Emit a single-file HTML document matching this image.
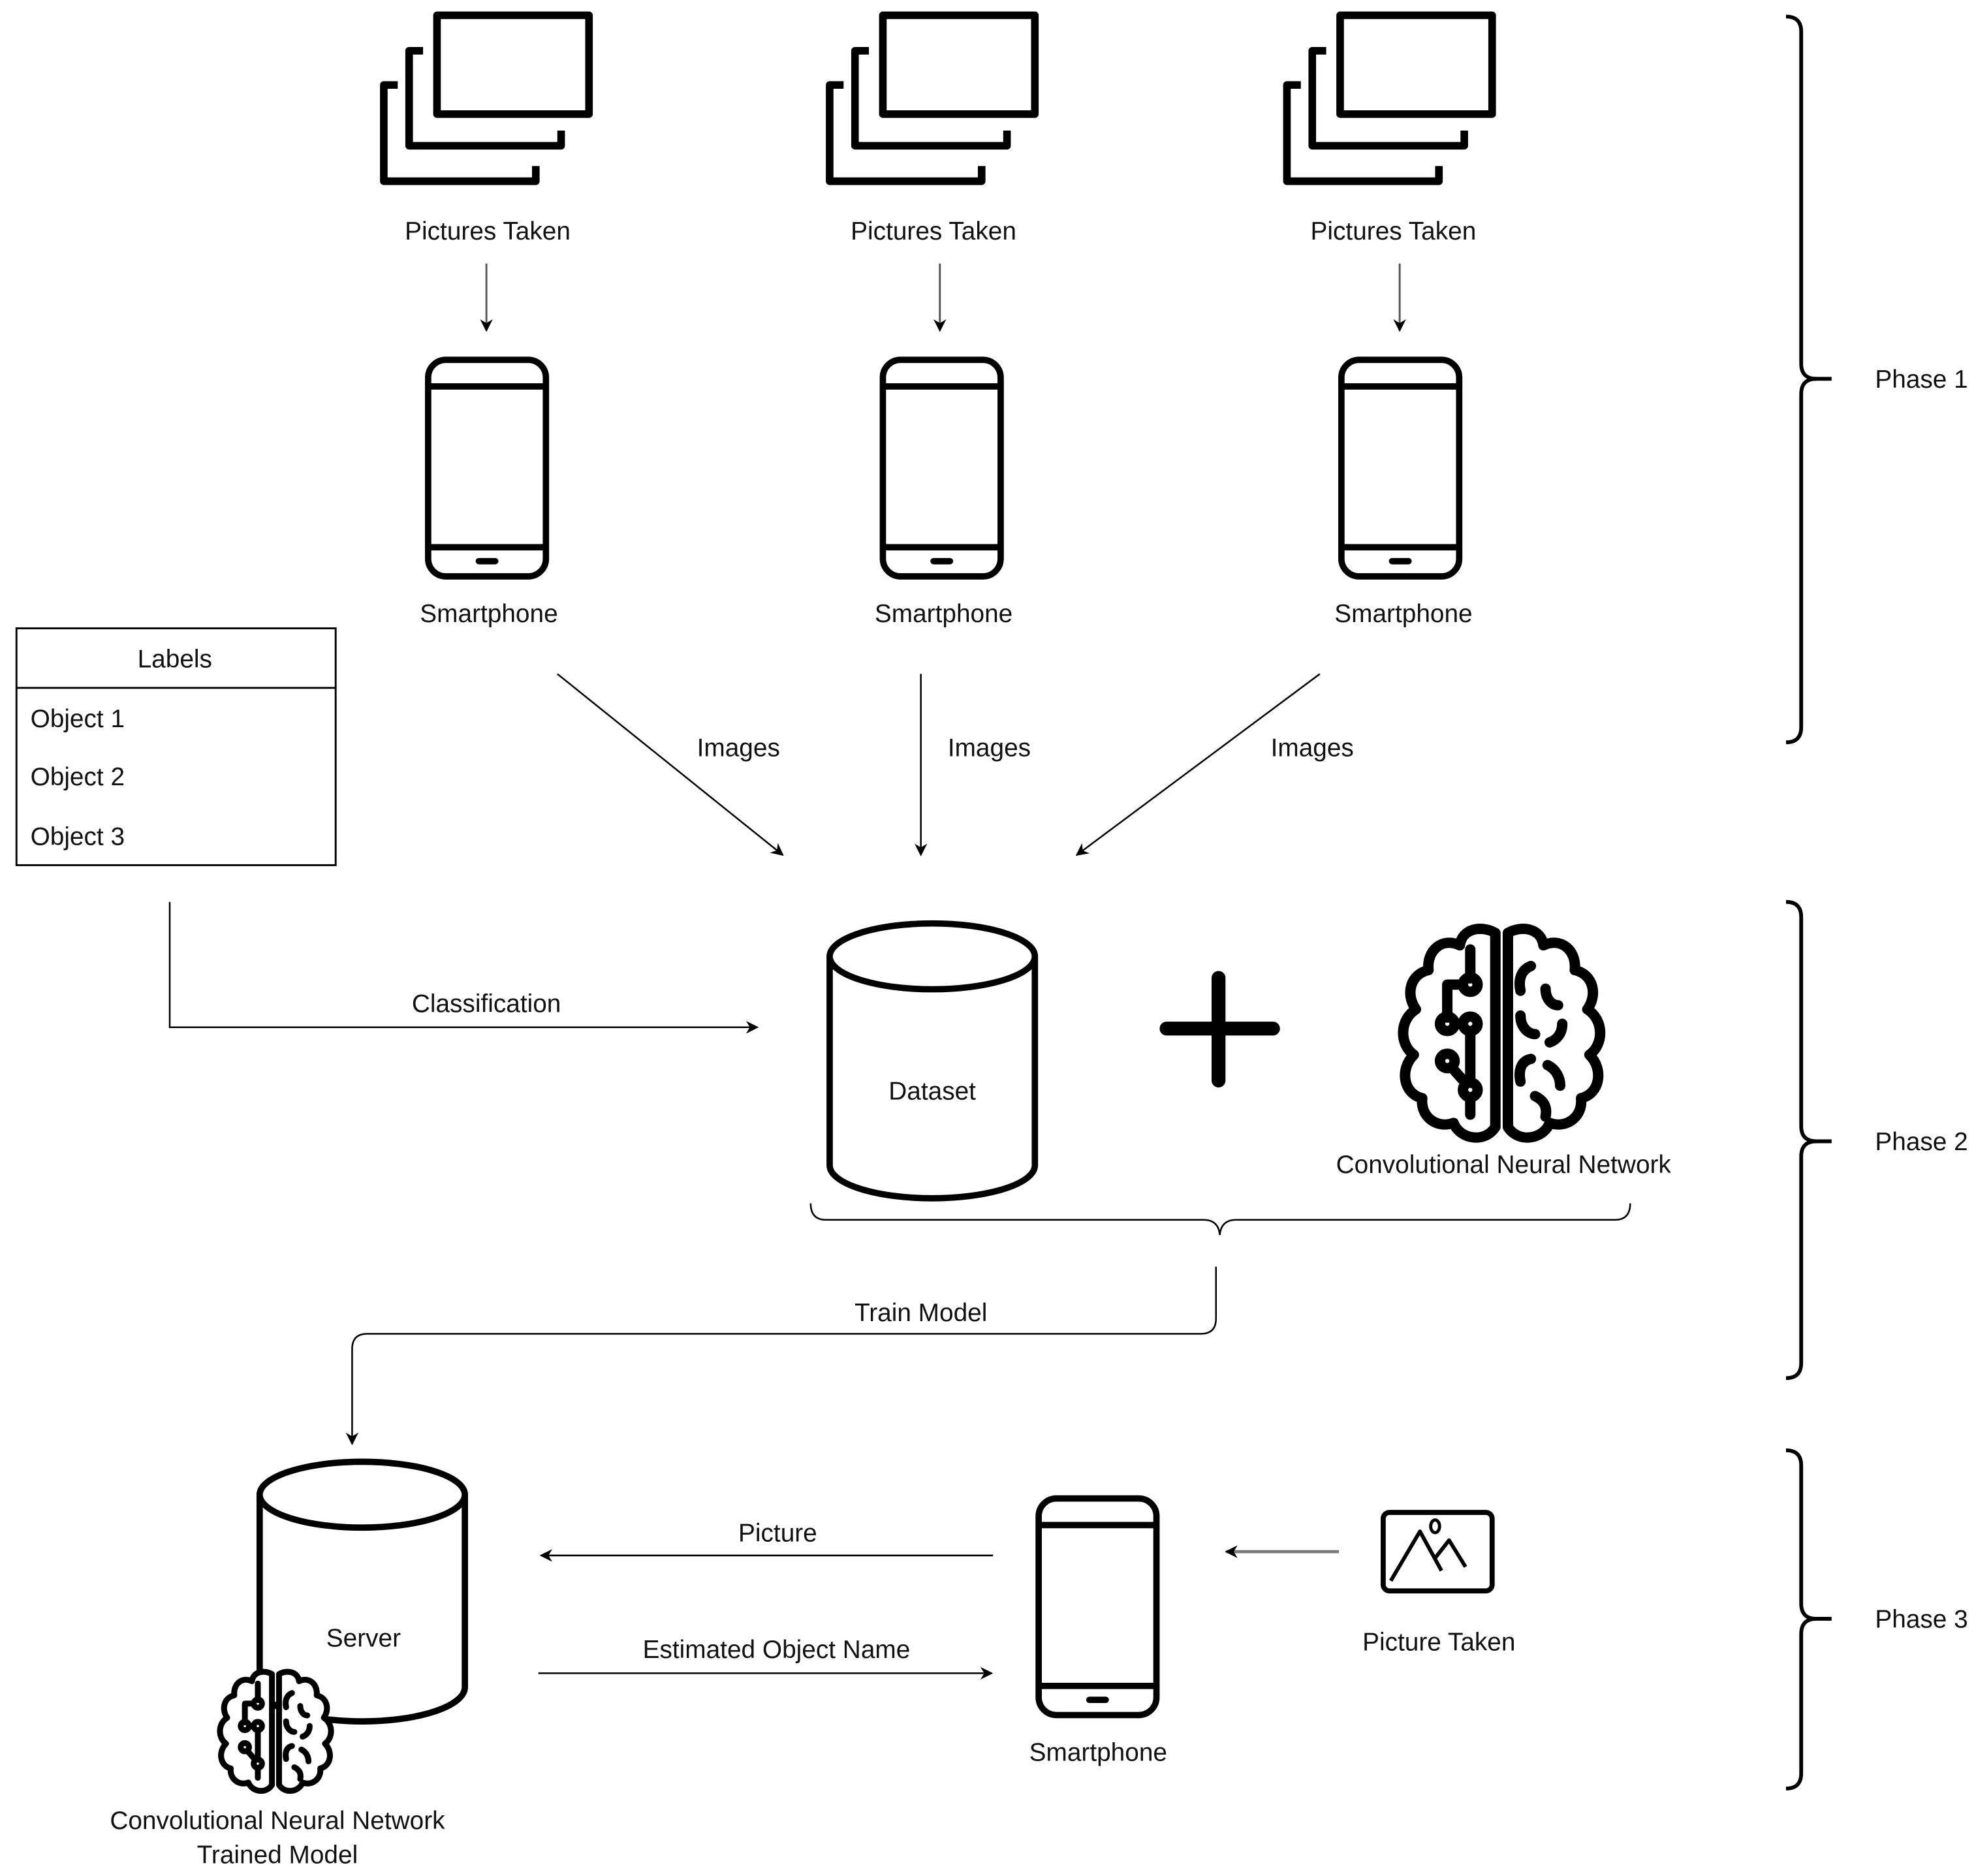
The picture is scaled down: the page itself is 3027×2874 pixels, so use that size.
<!DOCTYPE html>
<html><head><meta charset="utf-8"><style>
html,body{margin:0;padding:0;background:#fff;}
svg{display:block;}
text{font-family:"Liberation Sans",sans-serif;fill:#111;}
</style></head><body>
<svg width="3027" height="2874" viewBox="0 0 1560 1481" xmlns="http://www.w3.org/2000/svg">
<defs>
<marker id="ah" markerWidth="10" markerHeight="10" refX="9" refY="5" orient="auto" markerUnits="userSpaceOnUse">
<path d="M0,0 L10,5 L0,10 L3,5 Z" fill="#000"/></marker>
<g id="stack" fill="none" stroke="#000" stroke-width="6" stroke-linejoin="round">
<rect x="345" y="12" width="120" height="78"/>
<polyline points="334,40 323,40 323,115 443,115 443,103"/>
<polyline points="314,67 303,67 303,143 423,143 423,131"/>
</g>
<g id="phone" fill="none" stroke="#000" stroke-width="5">
<rect x="0" y="0" width="93" height="171" rx="14"/>
<line x1="0" y1="21" x2="93" y2="21"/>
<line x1="0" y1="148" x2="93" y2="148"/>
<line x1="40" y1="159" x2="53" y2="159" stroke-width="5" stroke-linecap="round"/>
</g>
<g id="brain" fill="none" stroke="#000" stroke-width="5" stroke-linecap="round" stroke-linejoin="round">
<path d="M47,4 C40,0 31,2 30,10 C22,6 14,12 15,22 C6,24 4,34 9,41 C1,46 1,58 8,63 C1,70 3,82 12,84 C11,93 19,99 27,96 C30,104 42,106 47,98 Z" fill="#fff"/>
<path d="M53,4 C60,0 69,2 70,10 C78,6 86,12 85,22 C94,24 96,34 91,41 C99,46 99,58 92,63 C99,70 97,82 88,84 C89,93 81,99 73,96 C70,104 58,106 53,98 Z" fill="#fff"/>
<line x1="35" y1="12" x2="35" y2="26"/>
<circle cx="35" cy="29" r="3.5"/>
<polyline points="31,29 24,29 24,45"/>
<circle cx="24" cy="48" r="3.5"/>
<circle cx="35" cy="48" r="3.5"/>
<line x1="28" y1="48" x2="31" y2="48"/>
<line x1="35" y1="52" x2="35" y2="76"/>
<circle cx="24" cy="66" r="3.5"/>
<line x1="26" y1="69" x2="33" y2="77"/>
<circle cx="35" cy="80" r="3.5"/>
<line x1="35" y1="84" x2="35" y2="92"/>
<path d="M64,20 C59,22 58,27 59,32"/>
<path d="M71,31 C71,36 74,39 77,39"/>
<path d="M59,44 C59,50 63,53 66,53"/>
<path d="M79,48 C79,53 76,56 73,57"/>
<path d="M64,65 C59,66 58,71 59,76"/>
<path d="M72,68 C76,70 78,74 78,78"/>
<path d="M66,83 C70,85 72,88 71,93"/>
</g>
</defs>

<!-- Phase 1 stacks -->
<use href="#stack"/>
<use href="#stack" x="352"/>
<use href="#stack" x="713"/>
<g font-size="20" text-anchor="middle">
<text x="385" y="189">Pictures Taken</text>
<text x="737" y="189">Pictures Taken</text>
<text x="1100" y="189">Pictures Taken</text>
</g>
<g stroke="#555" stroke-width="1.5" marker-end="url(#ah)">
<line x1="384" y1="208" x2="384" y2="261"/>
<line x1="742" y1="208" x2="742" y2="261"/>
<line x1="1105" y1="208" x2="1105" y2="261"/>
</g>
<use href="#phone" x="338" y="284"/>
<use href="#phone" x="697" y="284"/>
<use href="#phone" x="1059" y="284"/>
<g font-size="20" text-anchor="middle">
<text x="386" y="491">Smartphone</text>
<text x="745" y="491">Smartphone</text>
<text x="1108" y="491">Smartphone</text>
</g>

<!-- Labels box -->
<rect x="13" y="496" width="252" height="187" fill="none" stroke="#000" stroke-width="1.5"/>
<line x1="13" y1="543" x2="265" y2="543" stroke="#000" stroke-width="1.5"/>
<g font-size="20">
<text x="138" y="527" text-anchor="middle">Labels</text>
<text x="24" y="574">Object 1</text>
<text x="24" y="620">Object 2</text>
<text x="24" y="667">Object 3</text>
</g>

<!-- Image arrows -->
<g stroke="#000" stroke-width="1.3" fill="none" marker-end="url(#ah)">
<line x1="440" y1="532" x2="618" y2="675"/>
<line x1="727" y1="532" x2="727" y2="675"/>
<line x1="1042" y1="532" x2="850" y2="675"/>
<polyline points="134,712 134,811 598,811"/>
</g>
<g font-size="20" text-anchor="middle">
<text x="583" y="597">Images</text>
<text x="781" y="597">Images</text>
<text x="1036" y="597">Images</text>
<text x="384" y="799">Classification</text>
</g>

<!-- Dataset -->
<path d="M655,755 L655,920 A81,26 0 0 0 817,920 L817,755" fill="#fff" stroke="#000" stroke-width="5"/>
<ellipse cx="736" cy="755" rx="81" ry="26" fill="#fff" stroke="#000" stroke-width="5"/>
<text x="736" y="868" font-size="20" text-anchor="middle">Dataset</text>

<!-- Plus -->
<g stroke="#000" stroke-width="11" stroke-linecap="round">
<line x1="921" y1="812" x2="1005" y2="812"/>
<line x1="962" y1="772" x2="962" y2="853"/>
</g>

<!-- Brain large -->
<use href="#brain" transform="translate(1103,730) scale(1.65,1.63)"/>
<text x="1187" y="926" font-size="20" text-anchor="middle">Convolutional Neural Network</text>

<!-- horizontal brace -->
<path d="M640,950 Q640,963 652,963 L950,963 Q962,963 963,975 Q964,963 976,963 L1275,963 Q1287,963 1287,950" fill="none" stroke="#000" stroke-width="1.3"/>

<!-- Train model -->
<path d="M960,1000 L960,1041 Q960,1053 948,1053 L290,1053 Q278,1053 278,1065 L278,1140" fill="none" stroke="#000" stroke-width="1.3" marker-end="url(#ah)"/>
<text x="727" y="1043" font-size="20" text-anchor="middle">Train Model</text>

<!-- Server -->
<path d="M205,1180 L205,1332 A81,27 0 0 0 367,1332 L367,1180" fill="#fff" stroke="#000" stroke-width="5"/>
<ellipse cx="286" cy="1180" rx="81" ry="26" fill="#fff" stroke="#000" stroke-width="5"/>
<text x="287" y="1300" font-size="20" text-anchor="middle">Server</text>
<use href="#brain" transform="translate(171,1318) scale(0.93,0.93)"/>
<g font-size="20" text-anchor="middle">
<text x="219" y="1444">Convolutional Neural Network</text>
<text x="219" y="1471">Trained Model</text>
</g>

<!-- Phase 3 arrows -->
<g stroke="#000" stroke-width="1.3" marker-end="url(#ah)">
<line x1="784" y1="1228" x2="427" y2="1228"/>
<line x1="425" y1="1321" x2="783" y2="1321"/>
</g>
<line x1="1057" y1="1225" x2="968" y2="1225" stroke="#777" stroke-width="2.5" marker-end="url(#ah)"/>
<g font-size="20" text-anchor="middle">
<text x="614" y="1217">Picture</text>
<text x="613" y="1309">Estimated Object Name</text>
<text x="867" y="1390">Smartphone</text>
<text x="1136" y="1303">Picture Taken</text>
</g>
<use href="#phone" x="820" y="1183"/>

<!-- picture icon -->
<g fill="none" stroke="#000" stroke-linejoin="round">
<rect x="1092" y="1194" width="86" height="62" rx="5" stroke-width="4"/>
<polyline points="1098,1248 1121,1209 1138,1240" stroke-width="3"/>
<polyline points="1133,1230 1144,1216 1157,1237" stroke-width="3"/>
<ellipse cx="1133" cy="1205" rx="3.5" ry="5" stroke-width="2.5"/>
</g>

<!-- Phase braces -->
<g fill="none" stroke="#000" stroke-width="3">
<path d="M1410,13 Q1422,13 1422,25 L1422,287 Q1422,299 1434,299 Q1422,299 1422,311 L1422,574 Q1422,586 1410,586"/>
<line x1="1430" y1="299" x2="1446" y2="299"/>
<path d="M1410,712 Q1422,712 1422,724 L1422,889 Q1422,901 1434,901 Q1422,901 1422,913 L1422,1076 Q1422,1088 1410,1088"/>
<line x1="1430" y1="901" x2="1446" y2="901"/>
<path d="M1410,1145 Q1422,1145 1422,1157 L1422,1266 Q1422,1278 1434,1278 Q1422,1278 1422,1290 L1422,1400 Q1422,1412 1410,1412"/>
<line x1="1430" y1="1278" x2="1446" y2="1278"/>
</g>
<g font-size="20" text-anchor="middle">
<text x="1517" y="306">Phase 1</text>
<text x="1517" y="908">Phase 2</text>
<text x="1517" y="1285">Phase 3</text>
</g>
</svg>
</body></html>
